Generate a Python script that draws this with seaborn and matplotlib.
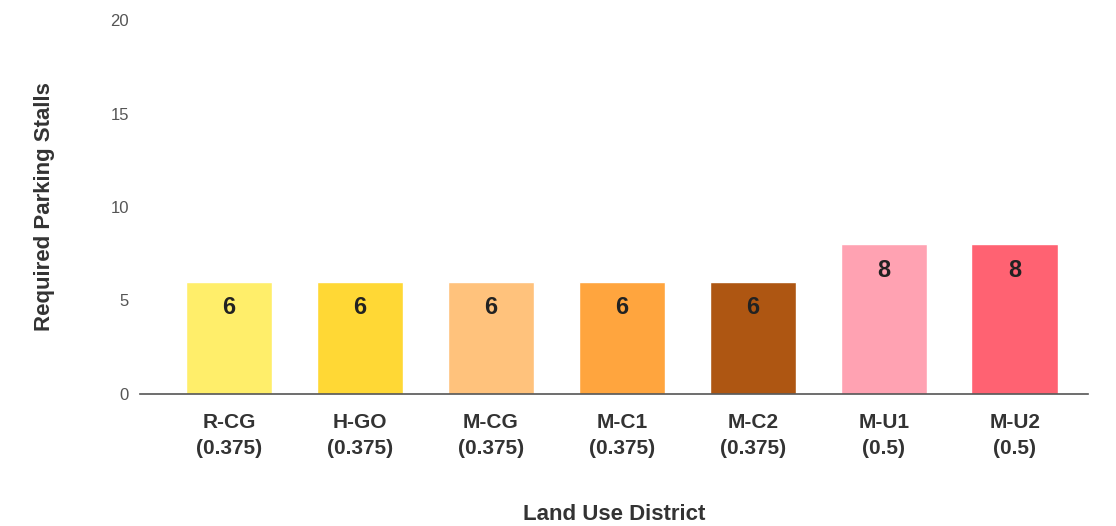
import matplotlib
matplotlib.use("Agg")
import matplotlib.pyplot as plt
import seaborn as sns
import pandas as pd

districts = ["R-CG\n(0.375)", "H-GO\n(0.375)", "M-CG\n(0.375)", "M-C1\n(0.375)",
             "M-C2\n(0.375)", "M-U1\n(0.5)", "M-U2\n(0.5)"]
stalls = [6, 6, 6, 6, 6, 8, 8]
bar_colors = ["#FFEE6A", "#FFD835", "#FFC27C", "#FFA53E", "#AE5612", "#FFA2B2", "#FF6272"]

df = pd.DataFrame({"district": districts, "stalls": stalls})

sns.set_style("white")
plt.rcParams['font.family'] = ['Liberation Sans', 'DejaVu Sans']

fig = plt.figure(figsize=(11.16, 5.26), dpi=100)
ax = fig.add_axes([140/1116, 132/526, (1088-140)/1116, (394-20)/526])

sns.barplot(data=df, x="district", y="stalls", hue="district", palette=bar_colors,
            legend=False, width=0.66, saturation=1, ax=ax)

for i, v in enumerate(stalls):
    ax.text(i, v - 1.4, str(v), ha="center", va="center", fontsize=17,
            fontweight="bold", color="#222222")

ax.set_ylim(0, 20)
ax.set_xlim(-0.68, 6.56)
ax.set_yticks([0, 5, 10, 15, 20])
ax.tick_params(axis="y", length=0, labelsize=12, labelcolor="#555555", pad=8)
ax.tick_params(axis="x", length=0, labelsize=15, labelcolor="#333333", pad=14)
for lbl in ax.get_xticklabels():
    lbl.set_fontweight("bold")
    lbl.set_linespacing(1.45)

for s in ["top", "right", "left"]:
    ax.spines[s].set_visible(False)
ax.spines["bottom"].set_color("#555555")
ax.spines["bottom"].set_linewidth(1.2)

ax.set_xlabel("Land Use District", fontsize=16, fontweight="bold", color="#333333", labelpad=33)
ax.set_ylabel("Required Parking Stalls", fontsize=16, fontweight="bold", color="#333333", labelpad=40)

fig.savefig("out.png", dpi=100)
